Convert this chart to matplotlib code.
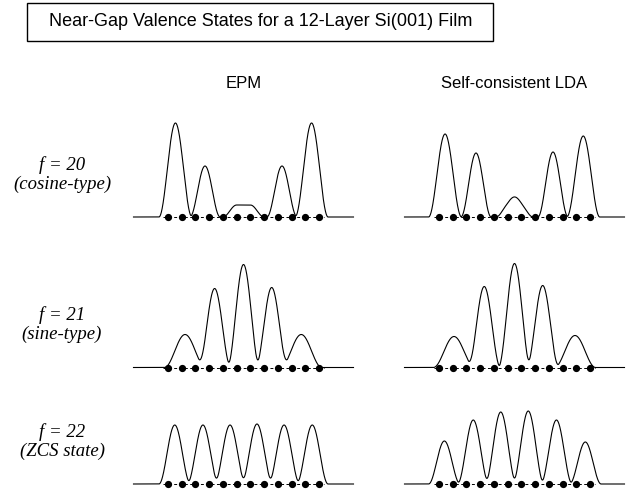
import numpy as np
import matplotlib.pyplot as plt
from matplotlib.patches import Rectangle

W, H = 632, 491

title = "Near-Gap Valence States for a 12-Layer Si(001) Film"
col_names = ["EPM", "Self-consistent LDA"]
row_names = ["f = 20", "f = 21", "f = 22"]
row_types = ["(cosine-type)", "(sine-type)", "(ZCS state)"]

# 12 atomic layers, positions in units of the layer spacing
atoms = np.arange(12) - 5.5

# charge lobes for each state (rows: f=20, 21, 22)
# centre, height, half-width of each lobe
epm_centres = [[-4.95, -2.8, -0.5, 0.5, 2.8, 4.95],
               [-4.25, -2.1, 0.0, 2.05, 4.2],
               [-5.0, -2.95, -0.98, 0.98, 2.95, 5.0]]
epm_heights = [[94, 51, 12, 12, 51, 94],
               [33, 79, 103, 80, 33],
               [59, 59, 59, 60, 59, 59]]
epm_widths = [[1.2, 1.1, 1.0, 1.0, 1.1, 1.2],
              [1.5, 1.18, 1.18, 1.18, 1.5],
              [1.15, 1.15, 1.15, 1.15, 1.15, 1.15]]

lda_centres = [[-5.05, -2.8, -0.35, 0.35, 2.8, 5.0],
               [-4.4, -2.2, 0.0, 2.05, 4.4],
               [-5.1, -3.0, -1.0, 1.0, 3.05, 5.15]]
lda_heights = [[83, 64, 13.8, 13.8, 65, 81],
               [31, 81, 104, 82, 32],
               [43, 64, 72, 73, 64, 42]]
lda_widths = [[1.2, 1.1, 1.0, 1.0, 1.1, 1.2],
              [1.5, 1.18, 1.18, 1.18, 1.5],
              [1.15, 1.15, 1.15, 1.15, 1.15, 1.15]]

col_centre_px = [243.5, 514.5]
row_base_px = [217, 367.5, 484]
px_per_unit = 13.75

fig = plt.figure(figsize=(W / 100, H / 100), dpi=100)

# title box
fig.patches.append(Rectangle((27 / W, 1 - 41 / H), 466 / W, 38 / H,
                             transform=fig.transFigure, fill=False,
                             edgecolor="black", linewidth=1.0))
fig.text(261 / W, 1 - 22 / H, title, ha="center", va="center",
         fontsize=13, family="Liberation Sans")

for c, name in enumerate(col_names):
    fig.text(col_centre_px[c] / W, 1 - 84 / H, name, ha="center",
             va="center", fontsize=12, family="Liberation Sans")

for r in range(3):
    yb = row_base_px[r]
    fig.text(62 / W, 1 - (yb - 52) / H, row_names[r], ha="center",
             va="center", fontsize=13.5, family="Liberation Serif",
             style="italic")
    fig.text(62 / W, 1 - (yb - 33) / H, row_types[r], ha="center",
             va="center", fontsize=13.5, family="Liberation Serif",
             style="italic")


def lobes(x, centres, heights, widths):
    y = np.zeros_like(x)
    for x0, h, w in zip(centres, heights, widths):
        d = np.abs(x - x0)
        y += np.where(d < w, h * np.cos(np.pi * d / (2 * w)) ** 2, 0.0)
    return y


x = np.linspace(-8.0, 8.0, 1600)
xlo, xhi = -8.1, 8.1
ylo, yhi = -6, 110

for c in range(2):
    centres = [epm_centres, lda_centres][c]
    heights = [epm_heights, lda_heights][c]
    widths = [epm_widths, lda_widths][c]
    for r in range(3):
        left = col_centre_px[c] + xlo * px_per_unit
        ax = fig.add_axes([left / W, (H - row_base_px[r] + ylo) / H,
                           (xhi - xlo) * px_per_unit / W, (yhi - ylo) / H])
        y = lobes(x, centres[r], heights[r], widths[r])
        ax.plot([atoms[0] - 0.35, atoms[-1] + 0.35], [0, 0], color="black",
                lw=0.7, ls=(0, (3, 2.5)))
        ax.plot(x, y, color="black", lw=0.8)
        ax.plot(atoms, np.zeros_like(atoms), "o", color="black",
                markersize=4.2)
        ax.set_xlim(xlo, xhi)
        ax.set_ylim(ylo, yhi)
        ax.axis("off")

fig.savefig("out.png", dpi=100)
